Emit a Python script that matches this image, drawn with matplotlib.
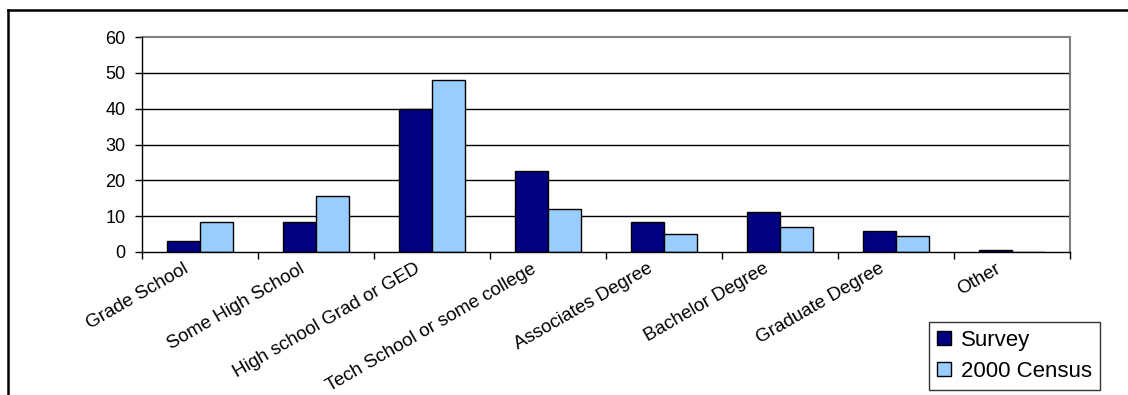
import matplotlib
matplotlib.use("Agg")
import matplotlib.pyplot as plt
from matplotlib.lines import Line2D
from matplotlib.transforms import ScaledTranslation
import numpy as np

categories = ["Grade School", "Some High School", "High school Grad or GED",
              "Tech School or some college", "Associates Degree", "Bachelor Degree",
              "Graduate Degree", "Other"]
survey = [3.1, 8.5, 40.0, 22.7, 8.5, 11.2, 5.9, 0.5]
census = [8.5, 15.5, 48.0, 12.0, 4.9, 7.1, 4.4, 0.0]
series_names = ["Survey", "2000 Census"]
yticks = [0, 10, 20, 30, 40, 50, 60]

plt.rcParams['font.family'] = ['Liberation Sans', 'DejaVu Sans']

W, H = 1128, 395
fig = plt.figure(figsize=(W / 100, H / 100), dpi=100)
ax = fig.add_axes([142 / W, 1 - 252 / H, (1070 - 142) / W, (252 - 37) / H])

n = len(categories)
x = np.arange(n)
bw = 1 / 3.5
ax.bar(x - bw / 2, survey, width=bw, color="#000080", edgecolor="black", linewidth=1.0,
       label=series_names[0], zorder=3)
ax.bar(x + bw / 2, census, width=bw, color="#99CCFF", edgecolor="black", linewidth=1.0,
       label=series_names[1], zorder=3)

ax.set_xlim(-0.5, n - 0.5)
ax.set_ylim(0, 60)
ax.set_yticks(yticks)
ax.set_yticklabels([str(t) for t in yticks], fontsize=13)
ax.tick_params(axis='y', length=5, width=1, pad=7, color='black')

ax.set_xticks(x)
ax.set_xticklabels(categories, fontsize=13.5, rotation=30, ha='right', va='top',
                   rotation_mode='anchor')
ax.tick_params(axis='x', which='major', length=0, pad=6)
shift = ScaledTranslation(-17 / 100, 0, fig.dpi_scale_trans)
for lab in ax.get_xticklabels():
    lab.set_transform(lab.get_transform() + shift)
ax.set_xticks(np.arange(-0.5, n, 1.0), minor=True)
ax.tick_params(axis='x', which='minor', length=5, width=1, color='black')

for t in yticks[1:-1]:
    ax.axhline(t, color='black', linewidth=1.0, zorder=1)

for side in ['top', 'right']:
    ax.spines[side].set_color('#808080')
    ax.spines[side].set_linewidth(1.5)
for side in ['left', 'bottom']:
    ax.spines[side].set_color('black')
    ax.spines[side].set_linewidth(1.0)
    ax.spines[side].set_zorder(4)

leg = ax.legend(loc='upper left', bbox_to_anchor=(929 / W, 1 - 322 / H),
                bbox_transform=fig.transFigure, borderaxespad=0, fontsize=16,
                frameon=True, fancybox=False, shadow=False, edgecolor='black',
                handlelength=0.65, handleheight=0.65, handletextpad=0.45,
                labelspacing=0.45, borderpad=0.35)
leg.get_frame().set_linewidth(1.0)

# outer chart frame
fig.add_artist(Line2D([8 / W, 1.0], [1 - 9.5 / H, 1 - 9.5 / H], transform=fig.transFigure,
                      color='black', linewidth=1.8))
fig.add_artist(Line2D([8 / W, 8 / W], [0.0, 1 - 9.5 / H], transform=fig.transFigure,
                      color='black', linewidth=1.8))

fig.savefig("out.png", dpi=100)
